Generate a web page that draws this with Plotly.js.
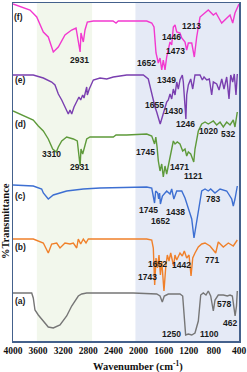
<!DOCTYPE html>
<html><head><meta charset="utf-8">
<script src="https://cdn.plot.ly/plotly-3.0.1.min.js"></script>
<style>html,body{margin:0;padding:0;background:#fff}#chart{width:247px;height:372px}</style>
</head><body><div id="chart"></div>
<script>
// Wavenumbers (cm-1) and stacked %T values (offset per spectrum)
const wA = [4000,3702,3677,3650,3597,3517,3438,3358,3251,3145,3065,2960,2906,2826,2084,1711,1658,1622,1590,1526,1340,1297,1271,1250,1207,1153,1101,1048,1010,969,926,889,851,809,782,730,650,586,543,506,462,440,427];
const yA = [48,48,43,31,26,20,14,13,16,25,35,45,47,48,48,47,45,39,45,47,47,45,26,6,7,6,8,20,46,48,46,50,45,30,41,46,46,45,46,45,25,35,50];

const wB = [4000,3677,3517,3438,3384,3304,3251,3172,3092,3039,2985,2960,2922,2880,2837,2800,1870,1790,1765,1743,1722,1700,1674,1652,1631,1610,1595,1568,1542,1515,1488,1442,1420,1392,1340,1303,1271,1233,1196,1164,1137,1101,1048,994,941,862,771,730,650,570,491,427];
const yB = [102,102,98,88,97,98,93,98,97,98,93,102,97,102,98,102,102,101,93,56,83,73,86,66,80,60,50,73,86,80,88,75,86,81,88,85,90,83,86,65,83,88,94,97,98,95,88,99,94,98,95,101];

const wC = [4000,3677,3543,3517,3438,3358,3145,2880,2614,1870,1790,1745,1727,1695,1680,1665,1652,1620,1552,1499,1472,1438,1392,1312,1260,1207,1153,1117,1074,1032,994,941,889,851,783,702,596,516,491,464,427];
const yC = [156,155,152,148,142,146,150,152,153,154,153,138,150,148,142,148,137,145,150,147,152,142,150,150,143,132,122,103,118,135,150,152,150,152,148,152,150,142,135,142,155];

const wD = [4000,3677,3597,3517,3438,3368,3310,3278,3224,3145,3039,2976,2931,2917,2890,2864,2826,2773,2402,2359,2323,2189,1870,1790,1745,1725,1705,1685,1658,1631,1606,1579,1552,1526,1499,1471,1446,1419,1383,1340,1297,1260,1233,1207,1169,1121,1101,1048,994,941,889,809,755,702,650,596,543,491,464,427];
const yD = [230,221,215,210,202,192,189,194,200,204,202,200,175,192,187,194,202,204,204,206,206,206,207,205,197,204,194,180,170,177,164,175,167,175,180,190,200,197,199,197,190,192,185,189,187,179,192,210,217,219,217,220,216,219,214,219,216,221,214,229];

const wE = [4000,3677,3517,3384,3331,3278,3224,3145,3119,3092,3065,3028,2985,2949,2922,2890,2869,2826,2816,2785,2721,2614,2507,2402,2295,2189,2029,1924,1845,1791,1765,1738,1711,1685,1655,1622,1595,1552,1526,1499,1472,1446,1419,1392,1367,1340,1303,1287,1246,1233,1207,1169,1137,1101,1021,984,957,914,873,835,809,755,718,675,639,596,559,532,500,475,448,427];
const yE = [266,266,263,259,256,247,241,230,227,231,227,234,239,244,241,246,243,254,246,252,261,263,262,264,265,266,266,266,262,247,242,234,229,222,217,224,229,239,241,247,242,252,246,259,252,261,266,259,222,246,256,262,252,266,266,261,264,261,262,246,259,257,251,262,252,264,242,266,259,267,246,267];

const wF = [4000,3729,3622,3517,3438,3358,3278,3172,3066,2996,2931,2917,2880,2853,2816,2721,2407,2359,2323,1870,1790,1754,1722,1685,1658,1631,1606,1579,1552,1526,1499,1472,1446,1419,1392,1340,1312,1260,1233,1207,1153,1112,1074,1021,889,809,766,730,676,543,500,464,427,400];
const yF = [337,331,324,309,304,289,294,306,311,313,289,308,299,311,319,320,320,318,320,320,318,314,288,278,283,271,281,271,284,291,299,296,314,316,309,308,303,299,291,298,298,284,304,324,331,326,328,324,318,326,318,328,334,337];

const seriesNames = ['(a)','(b)','(c)','(d)','(e)','(f)'];
const seriesColors = ['#767676','#f0802a','#3d6fd2','#5e9a3a','#7a3fb0','#f238cf'];

const tickVals = [4000,3600,3200,2800,2400,2000,1600,1200,800,400];
const tickText = ['4000','3600','3200','2800','2400','2000','1600','1200','800','400'];

// Series name labels
const nameX = [3888,3888,3888,3888,3888,3916];
const nameY = [40,94,145,217,261,324];

// Peak labels
const peakText = ['2931','1652','1446','1473','1213',
  '1349','1655','1430','1246',
  '1020','532','3310','2931','1745','1471','1121',
  '1745','1652','1438','783',
  '1652','1442','1743','771',
  '578','462','1250','1100'];
const peakX = [2944,1870,1472,1419,1153,
  1552,1754,1446,1260,
  885,580,3384,2944,1897,1340,1127,
  1845,1658,1419,809,
  1695,1320,1860,835,
  639,543,1472,873];
const peakY = [281,278,304,290,315,
  261,236,230,217,
  210,207,187,174,189,174,165,
  131,120,129,142,
  77,76,64,81,
  37,18,7,7];

const wl = [wA,wB,wC,wD,wE,wF];
const yl = [yA,yB,yC,yD,yE,yF];
const traces = wl.map((w,i)=>({x:w,y:yl[i],type:'scatter',mode:'lines',
  line:{color:seriesColors[i],width:1.4},hoverinfo:'none',name:seriesNames[i]}));

const lblFont = {family:'Liberation Sans, Arial',size:8.5,color:'#1a1a1a',weight:'bold'};
const ann = [];
seriesNames.forEach((n,i)=>ann.push({x:nameX[i],y:nameY[i],text:n,showarrow:false,
  font:lblFont,xanchor:'center',yanchor:'middle'}));
peakText.forEach((t,i)=>ann.push({x:peakX[i],y:peakY[i],text:t,showarrow:false,
  font:lblFont,xanchor:'center',yanchor:'middle'}));
ann.push({xref:'paper',yref:'paper',x:0.551,y:-0.074,text:'Wavenumber (cm<sup>-1</sup>)',showarrow:false,
  font:{family:'Liberation Serif, Times New Roman',size:10.5,color:'#111',weight:'bold'},xanchor:'center',yanchor:'middle'});
ann.push({xref:'paper',yref:'paper',x:-0.035,y:0.355,text:'%Transmittance',textangle:-90,showarrow:false,
  font:{family:'Liberation Serif, Times New Roman',size:10.5,color:'#111',weight:'bold'},xanchor:'center',yanchor:'middle'});

const layout = {
  width:247,height:372,
  margin:{l:13,r:8,t:3,b:31},
  paper_bgcolor:'#fff',plot_bgcolor:'#fff',
  showlegend:false,
  xaxis:{range:[4000,400],tickvals:tickVals,ticktext:tickText,ticks:'',showgrid:false,zeroline:false,
    showline:true,mirror:true,linecolor:'#44618c',linewidth:1.5,
    tickfont:{family:'Liberation Serif, Times New Roman',size:9.5,color:'#111',weight:'bold'}},
  yaxis:{range:[0,338],showticklabels:false,ticks:'',showgrid:false,zeroline:false,
    showline:true,mirror:true,linecolor:'#44618c',linewidth:1.5},
  shapes:[
    {type:'rect',xref:'x',yref:'paper',x0:3620,x1:2740,y0:0,y1:1,fillcolor:'#f2f7ec',line:{width:0},layer:'below'},
    {type:'rect',xref:'x',yref:'paper',x0:2050,x1:400,y0:0,y1:1,fillcolor:'#e5eaf6',line:{width:0},layer:'below'}
  ],
  annotations:ann
};
Plotly.newPlot('chart',traces,layout,{staticPlot:true,displayModeBar:false});
</script></body></html>
